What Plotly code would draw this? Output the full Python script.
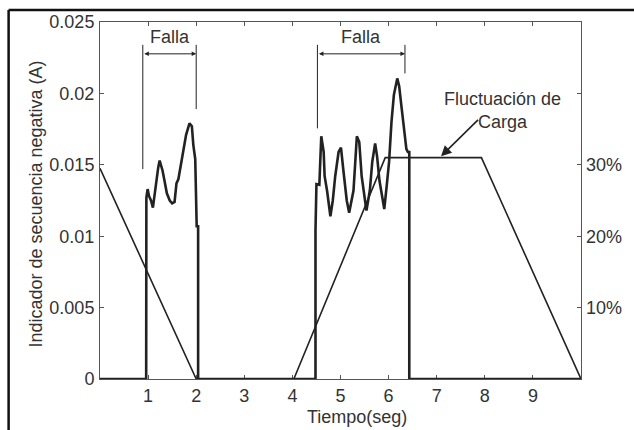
import plotly.graph_objects as go

# Tiempo (s) and negative-sequence indicator (A) for the two fault events
t_falla = [0.0, 0.96, 0.964, 0.99, 1.02, 1.06, 1.10, 1.13, 1.17, 1.21, 1.24, 1.27,
           1.30, 1.34, 1.39, 1.45, 1.50, 1.55, 1.59, 1.63, 1.71, 1.79, 1.86, 1.91,
           1.94, 1.98, 2.01, 2.04, 2.04,
           4.48, 4.48, 4.50, 4.56, 4.60, 4.65, 4.67, 4.72, 4.77, 4.79, 4.84, 4.89,
           4.96, 5.01, 5.06, 5.13, 5.18, 5.27, 5.30, 5.34, 5.39, 5.44, 5.51, 5.54,
           5.61, 5.66, 5.72, 5.76, 5.81, 5.89, 5.91, 5.96, 6.01, 6.06, 6.11, 6.18,
           6.22, 6.27, 6.32, 6.37, 6.40, 6.43, 6.43, 10.0]
i_falla = [0.0, 0.0, 0.0127, 0.0133, 0.0128, 0.0125, 0.0120, 0.0128, 0.0139, 0.0148, 0.0153, 0.0150,
           0.0146, 0.0139, 0.0130, 0.0125, 0.0123, 0.0124, 0.0137, 0.0140, 0.0157, 0.0171, 0.0179, 0.0177,
           0.0164, 0.0154, 0.0107, 0.0107, 0.0,
           0.0, 0.0104, 0.01365, 0.0136, 0.0170, 0.0159, 0.0142, 0.0132, 0.0121, 0.0114, 0.0125, 0.0142,
           0.0159, 0.0162, 0.0146, 0.0125, 0.01165, 0.0132, 0.0148, 0.0170, 0.0166, 0.0142, 0.0125, 0.0118,
           0.0132, 0.0152, 0.0165, 0.0156, 0.0139, 0.0121, 0.0119, 0.0135, 0.0152, 0.0180, 0.0199, 0.02105,
           0.0205, 0.0190, 0.0173, 0.0161, 0.0159, 0.0159, 0.0, 0.0]

# Load fluctuation profile (%)
t_carga = [0.0, 2.0, 4.03, 5.93, 7.93, 10.0]
carga_pct = [29.5, 0.0, 0.0, 31.0, 31.0, 0.0]

# Axis ticks
x_ticks = [1, 2, 3, 4, 5, 6, 7, 8, 9]
y_ticks = [0, 0.005, 0.01, 0.015, 0.02, 0.025]
y_ticktext = ["0", "0.005", "0.01", "0.015", "0.02", "0.025"]
y2_ticks = [10, 20, 30, 40]
y2_ticktext = ["10%", "20%", "30%", ""]

# Fault intervals marked with brackets: (left, right, left line bottom, right line bottom)
fallas = [(0.89, 2.0, 0.0147, 0.0189), (4.52, 6.34, 0.01755, 0.0214)]

FONT = "Liberation Sans, Arial, sans-serif"
FS = 18
INK = "#222222"
TXT = "#333333"

fig = go.Figure()

fig.add_trace(go.Scatter(
    x=t_carga, y=carga_pct, yaxis="y2", mode="lines",
    line=dict(color=INK, width=1.6), cliponaxis=False, showlegend=False,
))
fig.add_trace(go.Scatter(
    x=t_falla, y=i_falla, mode="lines",
    line=dict(color=INK, width=2.6), cliponaxis=False, showlegend=False,
))

shapes = []
annotations = []
top_bracket = 0.0234
arrow_y = 0.02277
for x0, x1, b0, b1 in fallas:
    shapes.append(dict(type="line", xref="x", yref="y", x0=x0, x1=x0, y0=b0, y1=top_bracket,
                       line=dict(color=INK, width=1)))
    shapes.append(dict(type="line", xref="x", yref="y", x0=x1, x1=x1, y0=b1, y1=top_bracket,
                       line=dict(color=INK, width=1)))
    annotations.append(dict(x=x1, y=arrow_y, ax=x0, ay=arrow_y, xref="x", yref="y",
                            axref="x", ayref="y", text="", showarrow=True,
                            arrowside="end+start", arrowhead=2, startarrowhead=2,
                            arrowsize=0.9, startarrowsize=0.9, arrowwidth=1, arrowcolor=INK))
    annotations.append(dict(x=(x0 + x1) / 2, y=0.02395, xref="x", yref="y",
                            xanchor="center", yanchor="middle",
                            text="Falla", showarrow=False,
                            font=dict(family=FONT, size=FS, color=TXT)))

# Load fluctuation label and pointer
annotations.append(dict(x=8.37, y=0.0188, xref="x", yref="y", xanchor="center",
                        yanchor="middle", text="Fluctuación de<br>Carga", showarrow=False,
                        align="center", font=dict(family=FONT, size=FS, color=TXT)))
annotations.append(dict(x=7.09, y=0.0156, ax=7.89, ay=0.01825, xref="x", yref="y",
                        axref="x", ayref="y", text="", showarrow=True,
                        arrowhead=2, arrowsize=1.3, arrowwidth=1.6, arrowcolor=INK))

# Axis titles
annotations.append(dict(x=0.535, y=-0.107, xref="paper", yref="paper",
                        xanchor="center", yanchor="middle",
                        text="Tiempo(seg)", showarrow=False,
                        font=dict(family=FONT, size=FS, color=TXT)))
annotations.append(dict(x=-0.132, y=0.49, xref="paper", yref="paper",
                        xanchor="center", yanchor="middle",
                        text="Indicador de secuencia negativa (A)", textangle=-90,
                        showarrow=False, font=dict(family=FONT, size=FS, color=TXT)))

# Outer frame (left and top edges)
shapes.append(dict(type="line", xref="paper", yref="paper", x0=-0.190, x1=-0.190,
                   y0=-0.16, y1=1.0334, line=dict(color="#111111", width=2.5)))
shapes.append(dict(type="line", xref="paper", yref="paper", x0=-0.190, x1=1.12,
                   y0=1.0334, y1=1.0334, line=dict(color="#111111", width=2.5)))

fig.update_layout(
    width=634, height=430,
    margin=dict(l=100, r=50, t=20, b=51),
    paper_bgcolor="white", plot_bgcolor="white",
    font=dict(family=FONT, size=FS, color=TXT),
    showlegend=False,
    xaxis=dict(range=[0, 10], tickvals=x_ticks, ticks="inside", ticklen=4,
               tickcolor="#555555", showline=True, linecolor="#555555", linewidth=1,
               mirror="ticks", showgrid=False, zeroline=False, layer="below traces",
               ticklabelstandoff=0,
               tickfont=dict(family=FONT, size=FS, color=TXT)),
    yaxis=dict(range=[0, 0.025], tickvals=y_ticks, ticktext=y_ticktext, ticks="inside",
               ticklen=4, tickcolor="#555555", showline=True, linecolor="#555555",
               linewidth=1, mirror="ticks", showgrid=False, zeroline=False,
               layer="below traces", ticklabelstandoff=1,
               tickfont=dict(family=FONT, size=FS, color=TXT)),
    yaxis2=dict(range=[0, 50], overlaying="y", side="right", tickvals=y2_ticks,
                ticktext=y2_ticktext, ticks="", showline=False, showgrid=False,
                zeroline=False, ticklabelstandoff=4,
                tickfont=dict(family=FONT, size=FS, color=TXT)),
    shapes=shapes, annotations=annotations,
)

fig.write_html("out.html")
